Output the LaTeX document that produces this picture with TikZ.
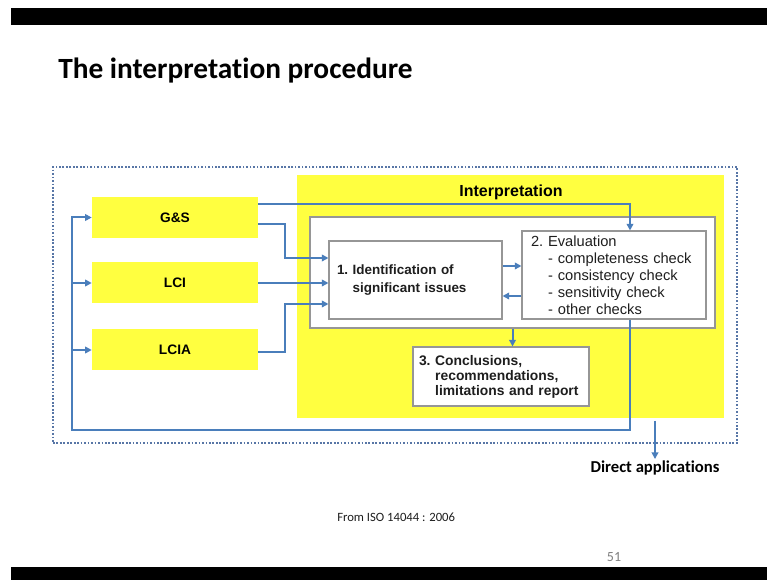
\documentclass[tikz,border=0pt]{standalone}
\usepackage{fontspec}
\setmainfont{Liberation Sans}
\newfontfamily\calibri[Ligatures=NoCommon]{Carlito}
\usetikzlibrary{arrows.meta}
\definecolor{lcayellow}{RGB}{255,255,64}
\definecolor{lcablue}{RGB}{74,126,187}
\definecolor{dotblue}{RGB}{88,118,166}
\definecolor{boxgray}{RGB}{150,150,150}
\definecolor{textgray}{RGB}{30,30,30}
\tikzset{
	inbox/.style={fill=lcayellow,minimum width=124.5pt,minimum height=30.75pt,inner sep=0pt,font=\bfseries\fontsize{10.3}{12}\selectfont},
	stepbox/.style={draw=boxgray,fill=white,line width=0.8pt,align=left,inner ysep=0pt,text=textgray},
	flow/.style={draw=lcablue,line width=1.5pt,-{Triangle[length=5pt,width=5pt]}}
}

\begin{document}
\begin{tikzpicture}[x=0.75pt,y=-0.75pt]
	\fill[white] (0,0) rectangle (767,580);
	\useasboundingbox (0,0) rectangle (767,580);
	\fill[black] (11,8) rectangle (767,25);
	\fill[black] (11,567) rectangle (767,580);

	\node[anchor=base west,inner sep=0pt,font=\calibri\bfseries\fontsize{22}{26}\selectfont] (title) at (58,79) {The interpretation procedure};

	\node[draw=dotblue,line width=1.3pt,dash pattern=on 1.3pt off 1.3pt,minimum width=513pt,minimum height=207pt] (frame) at (395,305) {};
	\node[fill=lcayellow,minimum width=320.25pt,minimum height=182.25pt] (interp) at (510.5,296.5) {};
	\node[font=\bfseries\fontsize{12}{14}\selectfont] (interplabel) at (511,192) {Interpretation};
	\node[draw=boxgray,fill=white,line width=0.8pt,minimum width=303.75pt,minimum height=83.25pt] (inner) at (512.5,272.5) {};

	\foreach \t/\y [count=\n] in {G\&S/217.5,LCI/283,LCIA/350}
		\node[inbox] (I\n) at (175,\y) {\t};

	\node[stepbox,text width=117.75pt,inner xsep=6pt,minimum height=58.5pt,font=\bfseries\fontsize{10.1}{13.5}\selectfont] (ident) at (415.5,280) {1.~Identification of\\\phantom{1.~}significant issues};
	\node[stepbox,text width=124.5pt,inner xsep=6.75pt,minimum height=66pt,font=\fontsize{11}{12.75}\selectfont] (eval) at (614,275) {2.~Evaluation\\\phantom{2.~}- completeness check\\\phantom{2.~}- consistency check\\\phantom{2.~}- sensitivity check\\\phantom{2.~}- other checks};
	\node[stepbox,text width=123pt,inner xsep=4.5pt,minimum height=44.25pt,font=\bfseries\fontsize{10.4}{11.3}\selectfont] (concl) at (501,376.5) {3.~Conclusions,\\\phantom{3.~}recommendations,\\\phantom{3.~}limitations and report};

	\draw[flow] ([yshift=10pt]I1.east) -| ([xshift=12pt]eval.north);
	\draw[flow] ([yshift=-5pt]I1.east) -- ++(27,0) |- ([yshift=16.5pt]ident.west);
	\draw[flow] (I2.east) -- (I2.east -| ident.west);
	\draw[flow] ([yshift=-1.5pt]I3.east) -- ++(27,0) |- ([yshift=-18pt]ident.west);
	\draw[flow] ([yshift=10.5pt]ident.east) -- ([yshift=10.5pt]ident.east -| eval.west);
	\draw[flow] ([yshift=-12pt]ident.east -| eval.west) -- ([yshift=-12pt]ident.east);
	\draw[flow] (inner.south) -- (inner.south |- concl.north);

	\coordinate (back) at (72,430);
	\draw[flow] ([xshift=12pt]eval.south) |- (back) |- (I1.west);
	\foreach \n in {2,3}
		\draw[flow] (I\n.west -| back) -- (I\n.west);

	\coordinate (dstart) at (655,421);
	\node[anchor=base,inner sep=1.5pt,font=\calibri\bfseries\fontsize{12.5}{15}\selectfont] (direct) at (655,473) {Direct applications};
	\draw[flow] (dstart) -- (direct.north);

	\node[anchor=base west,inner sep=0pt,text=textgray,font=\calibri\fontsize{9.5}{11}\selectfont] (source) at (337,521) {From ISO 14044 : 2006};
	\node[anchor=base,inner sep=0pt,text=gray,font=\calibri\fontsize{10.5}{12}\selectfont] (page) at (614,561) {51};
\end{tikzpicture}
\end{document}
